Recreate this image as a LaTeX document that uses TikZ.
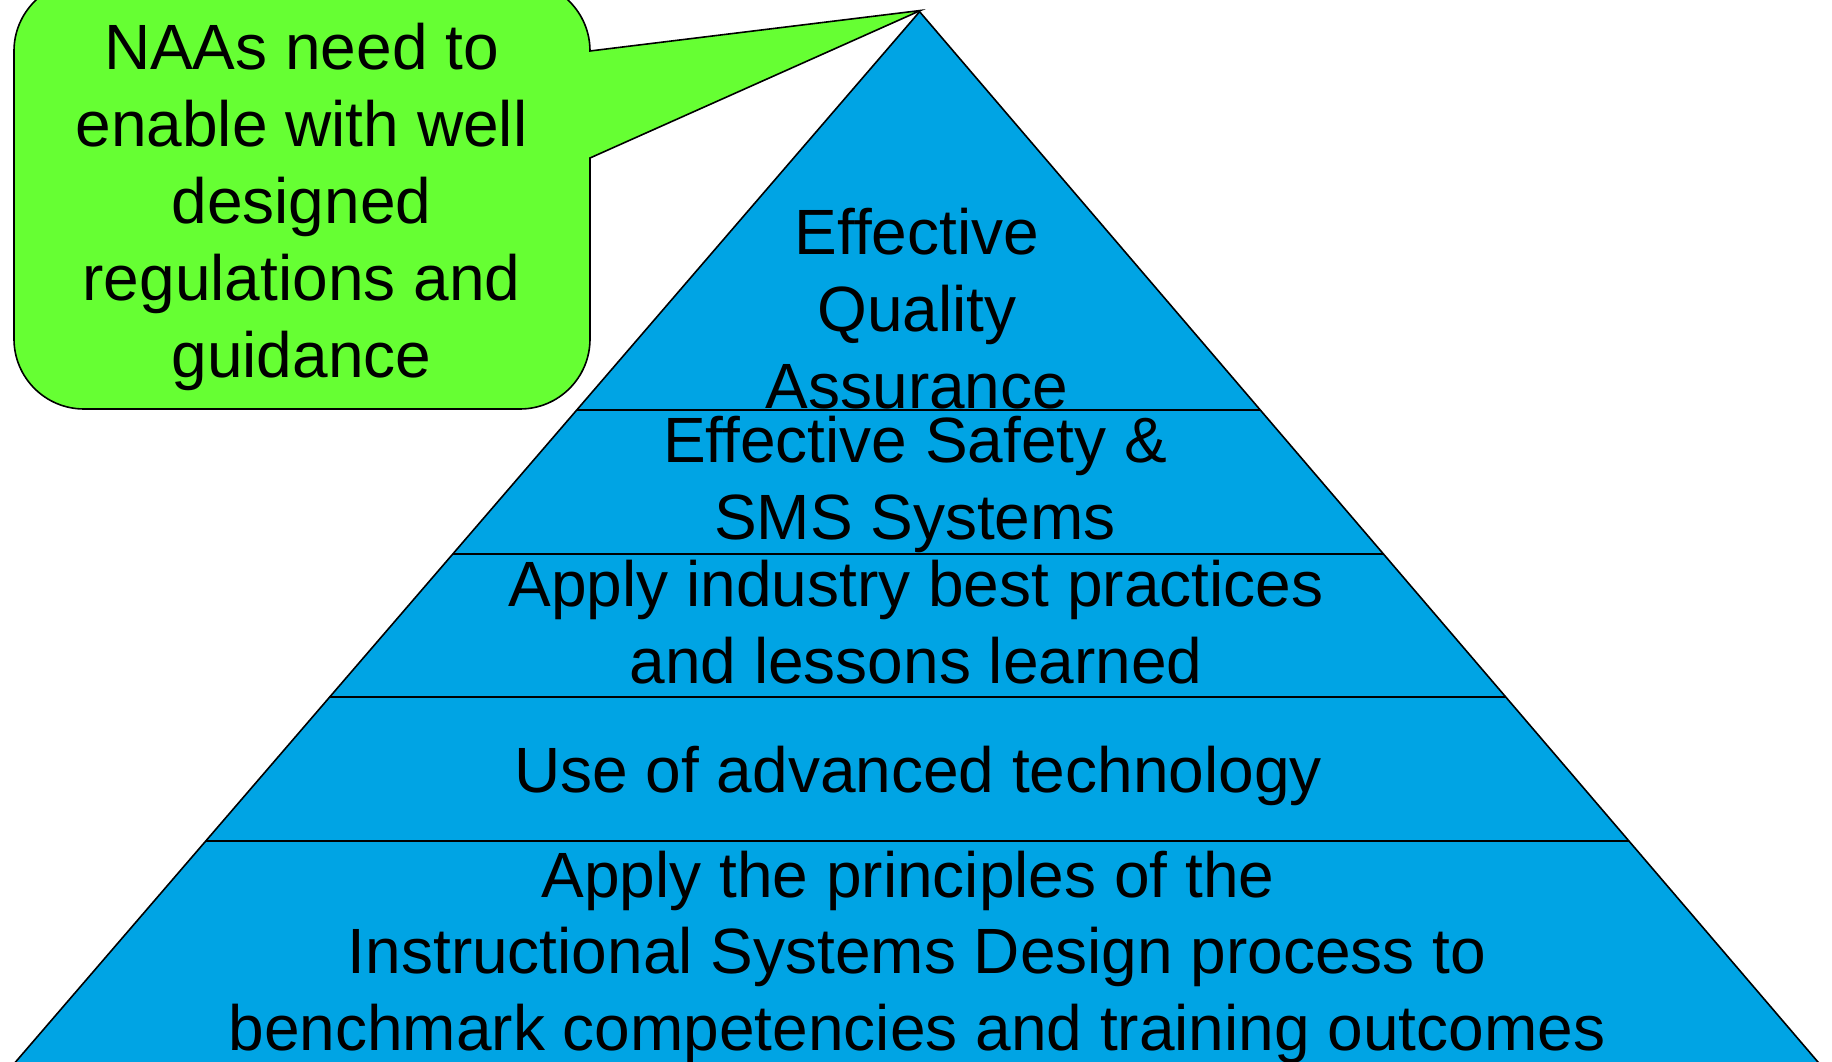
\documentclass[tikz,border=0pt]{standalone}
\usepackage{fontspec}
\setmainfont{Liberation Sans}
\definecolor{pyrblue}{RGB}{0,164,228}
\definecolor{callgreen}{RGB}{102,255,51}
\begin{document}
\begin{tikzpicture}[x=1pt,y=1pt,
  pyr/.style={fill=pyrblue,draw=black,line width=1.6pt,line join=miter},
  band/.style={draw=black,line width=2pt},
  callout/.style={fill=callgreen,draw=black,line width=1.6pt},
  lbl/.style={font=\fontsize{64}{76.8}\selectfont,align=center,anchor=base,inner sep=0pt,text=black}]
\useasboundingbox (0,0) rectangle (1832,1061);
\clip (0,0) rectangle (1832,1061);
% pyramid
\coordinate (apex) at (919.6,1049.3);
\coordinate (bl) at (-0.8,-20);
\coordinate (br) at (1834.2,-20);
\draw[pyr] (apex) -- (br) -- (bl) -- cycle;
% band separators
\coordinate (l1) at (576.7,651);   \coordinate (r1) at (1260.3,651);
\coordinate (l2) at (452.8,507);   \coordinate (r2) at (1383.4,507);
\coordinate (l3) at (329.3,363.5); \coordinate (r3) at (1506.2,363.5);
\coordinate (l4) at (205.7,220);   \coordinate (r4) at (1628.9,220);
\draw[band] (l1) -- (r1);
\draw[band] (l2) -- (r2);
\draw[band] (l3) -- (r3);
\draw[band] (l4) -- (r4);
% callout
\coordinate (tip) at (920.5,1050.5);
\draw[callout] (590,903) -- (590,722) arc[start angle=0,end angle=-90,radius=70pt]
  -- (84,652) arc[start angle=270,end angle=180,radius=70pt]
  -- (14,1010) arc[start angle=180,end angle=90,radius=70pt]
  -- (520,1080) arc[start angle=90,end angle=0,radius=70pt]
  -- (tip) -- cycle;
% texts (anchor = baseline of the last line)
\node[lbl] (t0) at (301.5,683.8) {NAAs need to\\enable with well\\designed\\regulations and\\guidance};
\node[lbl] (t1) at (917,652.4) {Effective\\Quality\\Assurance};
\node[lbl] (t2) at (915,521.2) {Effective Safety \&\\SMS Systems};
\node[lbl] (t3) at (916,377.2) {Apply industry best practices\\and lessons learned};
\node[lbl] (t4) at (918,268) {Use of advanced technology};
\node[lbl] (t5) at (917,10.4) {Apply the principles of the\hbox to 17.8pt{}\\Instructional Systems Design process to\\benchmark competencies and training outcomes};
\end{tikzpicture}
\end{document}
